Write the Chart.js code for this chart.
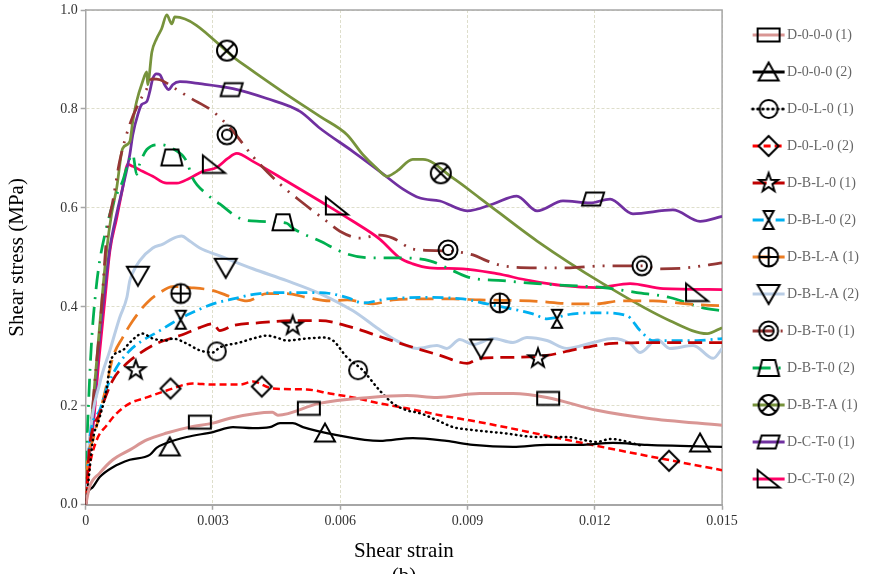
<!DOCTYPE html>
<html>
<head>
<meta charset="utf-8">
<script src="https://cdn.jsdelivr.net/npm/chart.js@4.4.1/dist/chart.umd.min.js"></script>
<style>
  html, body { margin: 0; padding: 0; background: #fff; overflow: hidden; }
  #wrap { width: 870px; height: 589px; }
</style>
</head>
<body>
<div id="wrap"><canvas id="chart" width="870" height="589"></canvas></div>
<script>
// tick positions
const xTicks = [0, 0.003, 0.006, 0.009, 0.012, 0.015];
const yTicks = [0, 0.2, 0.4, 0.6, 0.8, 1.0];

const seriesNames = ['D-0-0-0 (1)', 'D-0-0-0 (2)', 'D-0-L-0 (1)', 'D-0-L-0 (2)', 'D-B-L-0 (1)', 'D-B-L-0 (2)',
  'D-B-L-A (1)', 'D-B-L-A (2)', 'D-B-T-0 (1)', 'D-B-T-0 (2)', 'D-B-T-A (1)', 'D-C-T-0 (1)', 'D-C-T-0 (2)'];

// curves, [shear strain, shear stress (MPa)]
const d000_1 = [[0,0],[0.00009,0.036],[0.00033,0.064],[0.00064,0.091],[0.00104,0.111],[0.00144,0.131],[0.00191,0.145],[0.00245,0.157],[0.003,0.165],[0.0034,0.175],[0.0044,0.187],[0.00453,0.181],[0.0055,0.205],[0.0067,0.217],[0.00757,0.221],[0.00828,0.217],[0.00929,0.225],[0.01007,0.225],[0.01087,0.217],[0.01205,0.191],[0.01323,0.175],[0.015,0.161]];
const d000_2 = [[0,0],[0.00002,0.016],[0.00017,0.036],[0.00033,0.056],[0.00064,0.076],[0.00104,0.091],[0.00151,0.101],[0.00167,0.115],[0.00191,0.125],[0.00238,0.137],[0.003,0.147],[0.00347,0.157],[0.00394,0.155],[0.00434,0.157],[0.00458,0.165],[0.00488,0.165],[0.00512,0.157],[0.00592,0.141],[0.00693,0.129],[0.00771,0.135],[0.00851,0.129],[0.00913,0.121],[0.01007,0.117],[0.01087,0.121],[0.01165,0.121],[0.01243,0.125],[0.01323,0.121],[0.01401,0.119],[0.015,0.117]];
const d0L0_1 = [[0,0],[0.00005,0.036],[0.00017,0.131],[0.00033,0.177],[0.0005,0.237],[0.00059,0.292],[0.00087,0.312],[0.00104,0.328],[0.00134,0.346],[0.00158,0.336],[0.00191,0.332],[0.00205,0.336],[0.00238,0.326],[0.00269,0.312],[0.003,0.308],[0.00316,0.318],[0.00363,0.328],[0.00394,0.336],[0.00427,0.342],[0.0045,0.338],[0.00474,0.332],[0.00521,0.336],[0.00559,0.338],[0.00583,0.332],[0.00616,0.298],[0.00653,0.272],[0.00693,0.231],[0.00724,0.205],[0.00757,0.191],[0.00788,0.185],[0.00828,0.171],[0.00866,0.157],[0.00913,0.151],[0.00983,0.145],[0.01064,0.137],[0.01134,0.137],[0.01205,0.127],[0.01236,0.133],[0.01314,0.119]];
const d0L0_2 = [[0,0],[0.00002,0.024],[0.00009,0.076],[0.00026,0.131],[0.0005,0.161],[0.00073,0.185],[0.00104,0.205],[0.00144,0.217],[0.00191,0.231],[0.00252,0.245],[0.003,0.243],[0.00363,0.243],[0.00394,0.249],[0.00441,0.235],[0.00521,0.233],[0.00575,0.225],[0.0063,0.217],[0.00693,0.205],[0.00757,0.195],[0.00835,0.181],[0.00929,0.167],[0.01101,0.137],[0.01205,0.119],[0.01347,0.095],[0.015,0.070]];
const dBL0_1 = [[0,0],[0.00005,0.070],[0.00009,0.117],[0.00033,0.185],[0.00064,0.252],[0.00097,0.286],[0.00127,0.306],[0.00167,0.326],[0.00222,0.342],[0.00269,0.358],[0.003,0.366],[0.00316,0.352],[0.00347,0.362],[0.0041,0.368],[0.00488,0.372],[0.00552,0.372],[0.0063,0.358],[0.00693,0.340],[0.00757,0.322],[0.00835,0.302],[0.00899,0.286],[0.00929,0.296],[0.01007,0.298],[0.01087,0.302],[0.01165,0.316],[0.01243,0.326],[0.01361,0.328],[0.015,0.328]];
const dBL0_2 = [[0,0],[0.00005,0.070],[0.00009,0.131],[0.00033,0.191],[0.0005,0.237],[0.00073,0.278],[0.00104,0.312],[0.00134,0.332],[0.00167,0.348],[0.00205,0.368],[0.00245,0.386],[0.003,0.406],[0.00347,0.416],[0.0041,0.427],[0.00488,0.429],[0.00552,0.429],[0.00616,0.419],[0.00653,0.408],[0.0071,0.416],[0.00795,0.419],[0.00889,0.416],[0.00946,0.406],[0.00993,0.398],[0.01054,0.386],[0.01087,0.376],[0.01149,0.386],[0.01212,0.388],[0.01276,0.382],[0.01307,0.352],[0.01337,0.332],[0.01441,0.332],[0.015,0.336]];
const dBLA_1 = [[0,0],[0.00002,0.064],[0.00017,0.131],[0.00033,0.185],[0.0005,0.245],[0.00064,0.298],[0.00087,0.338],[0.00111,0.372],[0.00144,0.408],[0.00175,0.429],[0.00205,0.441],[0.00245,0.439],[0.003,0.433],[0.00347,0.419],[0.0038,0.412],[0.00427,0.427],[0.00474,0.427],[0.00521,0.419],[0.00575,0.412],[0.00616,0.414],[0.00677,0.406],[0.00724,0.414],[0.00788,0.416],[0.00866,0.416],[0.00929,0.414],[0.01047,0.412],[0.01158,0.406],[0.01205,0.406],[0.01259,0.412],[0.01337,0.412],[0.01417,0.406],[0.015,0.402]];
const dBLA_2 = [[0,0],[0.00005,0.070],[0.00009,0.131],[0.00033,0.245],[0.00057,0.312],[0.0008,0.378],[0.00097,0.419],[0.00104,0.453],[0.00111,0.469],[0.00127,0.493],[0.00158,0.519],[0.00182,0.527],[0.00203,0.537],[0.00226,0.543],[0.00245,0.533],[0.00269,0.519],[0.00316,0.503],[0.00394,0.477],[0.00474,0.453],[0.00552,0.427],[0.0063,0.392],[0.00686,0.358],[0.00724,0.336],[0.00781,0.316],[0.00828,0.322],[0.00851,0.316],[0.00882,0.334],[0.00913,0.324],[0.0096,0.336],[0.01007,0.328],[0.0104,0.338],[0.01087,0.332],[0.01134,0.316],[0.01196,0.328],[0.01243,0.336],[0.01283,0.326],[0.01307,0.308],[0.01347,0.334],[0.01377,0.316],[0.01432,0.322],[0.01479,0.296],[0.015,0.316]];
const dBT0_1 = [[0,0],[0.00005,0.070],[0.00014,0.171],[0.00026,0.292],[0.00035,0.372],[0.0005,0.547],[0.00064,0.614],[0.0008,0.694],[0.00104,0.769],[0.00127,0.815],[0.00144,0.841],[0.00156,0.861],[0.00175,0.859],[0.00215,0.839],[0.00245,0.823],[0.003,0.795],[0.00347,0.755],[0.00394,0.704],[0.00458,0.648],[0.00512,0.610],[0.00568,0.573],[0.00599,0.553],[0.00646,0.539],[0.00693,0.545],[0.00724,0.539],[0.00771,0.517],[0.00851,0.513],[0.00913,0.505],[0.00946,0.493],[0.00983,0.483],[0.01064,0.479],[0.01142,0.479],[0.01219,0.483],[0.01314,0.483],[0.01347,0.477],[0.01417,0.479],[0.015,0.489]];
const dBT0_2 = [[0,0],[0.00002,0.091],[0.00007,0.211],[0.00014,0.332],[0.00024,0.433],[0.00033,0.493],[0.00047,0.553],[0.00064,0.608],[0.00087,0.654],[0.00104,0.700],[0.00111,0.708],[0.0012,0.668],[0.00127,0.688],[0.00144,0.718],[0.00175,0.728],[0.00205,0.720],[0.00238,0.694],[0.00252,0.660],[0.00285,0.628],[0.00316,0.608],[0.00363,0.579],[0.0041,0.573],[0.00474,0.569],[0.00488,0.559],[0.00552,0.533],[0.00616,0.507],[0.0067,0.499],[0.00733,0.499],[0.00811,0.493],[0.00866,0.473],[0.00906,0.459],[0.00983,0.453],[0.01064,0.447],[0.01142,0.443],[0.01219,0.439],[0.01299,0.429],[0.01377,0.419],[0.01455,0.398],[0.015,0.392]];
const dBTA_1 = [[0,0],[0.00005,0.070],[0.00014,0.171],[0.00026,0.292],[0.00038,0.412],[0.0005,0.519],[0.00061,0.588],[0.00073,0.640],[0.00087,0.720],[0.00104,0.734],[0.00111,0.775],[0.0012,0.815],[0.00134,0.855],[0.00144,0.875],[0.00146,0.849],[0.00156,0.915],[0.00167,0.942],[0.00179,0.962],[0.00191,0.990],[0.00203,0.972],[0.0021,0.986],[0.00363,0.895],[0.00474,0.829],[0.00552,0.785],[0.00616,0.748],[0.00653,0.708],[0.00686,0.680],[0.0071,0.664],[0.00733,0.674],[0.00771,0.698],[0.00795,0.698],[0.00866,0.660],[0.00929,0.620],[0.01064,0.533],[0.01219,0.447],[0.01377,0.372],[0.01465,0.346],[0.015,0.358]];
const dCT0_1 = [[0,0],[0.00005,0.070],[0.00017,0.171],[0.00028,0.292],[0.00042,0.412],[0.00057,0.519],[0.00073,0.588],[0.00087,0.640],[0.00104,0.708],[0.00111,0.748],[0.00123,0.789],[0.00132,0.809],[0.00144,0.815],[0.00151,0.835],[0.00158,0.861],[0.00167,0.871],[0.00175,0.869],[0.00186,0.849],[0.00196,0.839],[0.00205,0.849],[0.00222,0.855],[0.00269,0.851],[0.00347,0.841],[0.00427,0.821],[0.00505,0.795],[0.00552,0.761],[0.0063,0.714],[0.00693,0.674],[0.00748,0.638],[0.00788,0.620],[0.00835,0.614],[0.00899,0.594],[0.0096,0.608],[0.01016,0.624],[0.01064,0.594],[0.01125,0.614],[0.01189,0.610],[0.01236,0.618],[0.0129,0.588],[0.01384,0.596],[0.01448,0.573],[0.015,0.583]];
const dCT0_2 = [[0,0],[0.00005,0.070],[0.00019,0.171],[0.00031,0.292],[0.00045,0.412],[0.00057,0.513],[0.00073,0.579],[0.00087,0.640],[0.00099,0.688],[0.00111,0.684],[0.00134,0.674],[0.00158,0.664],[0.00191,0.650],[0.00215,0.650],[0.00245,0.660],[0.00276,0.674],[0.00309,0.682],[0.00335,0.700],[0.00356,0.710],[0.00394,0.694],[0.00474,0.654],[0.00552,0.614],[0.0063,0.573],[0.00693,0.537],[0.0074,0.499],[0.00771,0.487],[0.00811,0.479],[0.00889,0.477],[0.00969,0.467],[0.01047,0.453],[0.01125,0.443],[0.01205,0.439],[0.01283,0.447],[0.01361,0.437],[0.015,0.435]];

// marker positions on each curve
const m000_1 = [[0.00269,0.167],[0.00526,0.195],[0.0109,0.215]];
const m000_2 = [[0.00198,0.117],[0.00564,0.145],[0.01448,0.125]];
const m0L0_1 = [[0.00309,0.310],[0.00642,0.272]];
const m0L0_2 = [[0.002,0.235],[0.00415,0.239],[0.01375,0.089]];
const mBL0_1 = [[0.00118,0.272],[0.00488,0.362],[0.01066,0.296]];
const mBL0_2 = [[0.00224,0.374],[0.01111,0.376]];
const mBLA_1 = [[0.00224,0.427],[0.00976,0.408]];
const mBLA_2 = [[0.00123,0.463],[0.0033,0.479],[0.00932,0.316]];
const mBT0_1 = [[0.00333,0.748],[0.00854,0.515],[0.01311,0.483]];
const mBT0_2 = [[0.00203,0.702],[0.00465,0.571]];
const mBTA_1 = [[0.00333,0.918],[0.00837,0.670]];
const mCT0_1 = [[0.00344,0.839],[0.01196,0.618]];
const mCT0_2 = [[0.00302,0.688],[0.00592,0.604],[0.01441,0.429]];

const curves = [d000_1, d000_2, d0L0_1, d0L0_2, dBL0_1, dBL0_2, dBLA_1, dBLA_2, dBT0_1, dBT0_2, dBTA_1, dCT0_1, dCT0_2];
const markers = [m000_1, m000_2, m0L0_1, m0L0_2, mBL0_1, mBL0_2, mBLA_1, mBLA_2, mBT0_1, mBT0_2, mBTA_1, mCT0_1, mCT0_2];

// styles
const colors = ['#d99694', '#000000', '#000000', '#ff0000', '#c00000', '#00b0f0', '#eb7b21', '#b9cde5', '#953735', '#00b050', '#77933c', '#7030a0', '#ff0066'];
const widths = [3, 2.25, 2.5, 2.5, 2.75, 2.75, 2.75, 3, 2.75, 2.75, 2.75, 2.75, 2.75];
const dashes = [[], [], [0.5, 4.5], [7, 4], [14, 7], [11, 5, 2, 5], [18, 8], [], [20, 8, 2, 8, 2, 8], [18, 8, 2, 8], [], [], []];
const shapes = ['rect', 'triangle', 'circle', 'diamond', 'star', 'hourglass', 'circlePlus', 'triangleDown', 'doubleCircle', 'trapezoid', 'circleCross', 'parallelogram', 'rightTriangle'];

const FONT = 'Liberation Serif';
const axisColor = '#a6a6a6';
const gridColor = '#dedecb';

function drawShape(g, shape) {
    g.strokeStyle = '#000';
    g.lineWidth = 2;
    g.setLineDash([]);
    g.beginPath();
    switch (shape) {
        case 'rect': g.rect(-11, -6.5, 22, 13); break;
        case 'triangle': g.moveTo(0, -9.5); g.lineTo(10, 8.5); g.lineTo(-10, 8.5); g.closePath(); break;
        case 'circle': g.arc(0, 0, 9, 0, Math.PI * 2); break;
        case 'diamond': g.moveTo(0, -10); g.lineTo(10, 0); g.lineTo(0, 10); g.lineTo(-10, 0); g.closePath(); break;
        case 'star':
            for (let k = 0; k < 10; k++) {
                const r = k % 2 ? 4 : 10;
                const a = -Math.PI / 2 + k * Math.PI / 5;
                if (k === 0) g.moveTo(r * Math.cos(a), r * Math.sin(a));
                else g.lineTo(r * Math.cos(a), r * Math.sin(a));
            }
            g.closePath();
            break;
        case 'hourglass': g.moveTo(-5, -9); g.lineTo(5, -9); g.lineTo(-5, 9); g.lineTo(5, 9); g.closePath(); break;
        case 'circlePlus':
            g.arc(0, 0, 9.5, 0, Math.PI * 2);
            g.moveTo(-9.5, 0); g.lineTo(9.5, 0); g.moveTo(0, -9.5); g.lineTo(0, 9.5);
            break;
        case 'triangleDown': g.moveTo(-11, -9); g.lineTo(11, -9); g.lineTo(0, 10); g.closePath(); break;
        case 'doubleCircle':
            g.arc(0, 0, 9.5, 0, Math.PI * 2);
            g.moveTo(5, 0); g.arc(0, 0, 5, 0, Math.PI * 2);
            break;
        case 'trapezoid': g.moveTo(-6.5, -8); g.lineTo(6.5, -8); g.lineTo(10.5, 8); g.lineTo(-10.5, 8); g.closePath(); break;
        case 'circleCross': {
            const d = 10 * Math.SQRT1_2;
            g.arc(0, 0, 10, 0, Math.PI * 2);
            g.moveTo(-d, -d); g.lineTo(d, d); g.moveTo(d, -d); g.lineTo(-d, d);
            break;
        }
        case 'parallelogram': g.moveTo(-7, -6.5); g.lineTo(11, -6.5); g.lineTo(7, 6.5); g.lineTo(-11, 6.5); g.closePath(); break;
        case 'rightTriangle': g.moveTo(-11, -9); g.lineTo(-11, 8.5); g.lineTo(11, 8.5); g.closePath(); break;
    }
    g.stroke();
}

function makeMarker(shape) {
    const c = document.createElement('canvas');
    c.width = 28; c.height = 28;
    const g = c.getContext('2d');
    g.translate(14, 14);
    drawShape(g, shape);
    return c;
}

function makeLegendIcon(i) {
    const c = document.createElement('canvas');
    c.width = 50; c.height = 28;
    const g = c.getContext('2d');
    g.strokeStyle = colors[i];
    g.lineWidth = 3;
    g.setLineDash(dashes[i]);
    g.lineCap = i === 2 ? 'round' : 'butt';
    g.beginPath();
    g.moveTo(15, 14);
    g.lineTo(47, 14);
    g.stroke();
    g.translate(31, 14);
    drawShape(g, shapes[i]);
    return c;
}

const markerIcons = shapes.map(makeMarker);
const legendIcons = seriesNames.map((n, i) => makeLegendIcon(i));

const toXY = pts => pts.map(p => ({ x: p[0], y: p[1] }));

const lineSets = curves.map((pts, i) => ({
    label: seriesNames[i],
    data: toXY(pts),
    showLine: true,
    borderColor: colors[i],
    backgroundColor: colors[i],
    borderWidth: widths[i],
    borderDash: dashes[i],
    borderCapStyle: i === 2 ? 'round' : 'butt',
    cubicInterpolationMode: 'monotone',
    pointRadius: 0,
    fill: false,
    order: 1
}));

const markerSets = markers.map((pts, i) => ({
    label: seriesNames[i] + ' marker',
    data: toXY(pts),
    showLine: false,
    pointStyle: markerIcons[i],
    pointRadius: 9,
    order: 0
}));

const framePlugin = {
    id: 'frame',
    beforeDatasetsDraw(chart) {
        const { ctx, chartArea: a } = chart;
        ctx.save();
        ctx.strokeStyle = axisColor;
        ctx.lineWidth = 1.5;
        ctx.beginPath();
        ctx.moveTo(a.left, a.top);
        ctx.lineTo(a.right, a.top);
        ctx.lineTo(a.right, a.bottom);
        ctx.stroke();
        ctx.restore();
    }
};

const tickFont = { family: FONT, size: 14 };
const titleFont = { family: FONT, size: 21 };

new Chart(document.getElementById('chart'), {
    type: 'scatter',
    data: { datasets: lineSets.concat(markerSets) },
    plugins: [framePlugin],
    options: {
        responsive: false,
        animation: false,
        layout: { padding: { left: 5, top: 1, right: 1, bottom: 0 } },
        scales: {
            x: {
                type: 'linear',
                min: 0,
                max: 0.015,
                afterBuildTicks: axis => { axis.ticks = xTicks.map(v => ({ value: v })); },
                ticks: {
                    autoSkip: false,
                    maxRotation: 0,
                    padding: 3,
                    font: tickFont,
                    color: '#333',
                    callback: v => v === 0 ? '0' : v.toFixed(3)
                },
                grid: { color: gridColor, lineWidth: 1, tickColor: axisColor, tickLength: 5, tickWidth: 1.5 },
                border: { color: axisColor, width: 2, dash: [3, 2] },
                title: { display: true, text: 'Shear strain', font: titleFont, color: '#000', padding: { top: 6, bottom: 0 } }
            },
            y: {
                type: 'linear',
                min: 0,
                max: 1,
                afterBuildTicks: axis => { axis.ticks = yTicks.map(v => ({ value: v })); },
                // let the plot start closer to the top edge
                afterFit: axis => { axis.paddingTop = 7; },
                ticks: {
                    autoSkip: false,
                    padding: 3,
                    font: tickFont,
                    color: '#333',
                    callback: v => v.toFixed(1)
                },
                grid: { color: gridColor, lineWidth: 1, tickColor: axisColor, tickLength: 5, tickWidth: 1.5 },
                border: { color: axisColor, width: 1.5, dash: [3, 2] },
                title: { display: true, text: 'Shear stress (MPa)', font: titleFont, color: '#000', padding: { top: 0, bottom: 27 } }
            }
        },
        plugins: {
            tooltip: { enabled: false },
            title: {
                display: true,
                text: '(b)',
                position: 'bottom',
                fullSize: false,
                font: { family: FONT, size: 21, weight: 'normal' },
                color: '#000',
                padding: 0
            },
            legend: {
                position: 'right',
                align: 'start',
                title: { display: true, text: '', font: { size: 1, lineHeight: 0 }, padding: { top: 4, bottom: 0 } },
                labels: {
                    usePointStyle: true,
                    pointStyleWidth: 35,
                    padding: 23,
                    color: '#000',
                    font: { family: FONT, size: 14 },
                    generateLabels: chart => seriesNames.map((name, i) => ({
                        text: name,
                        pointStyle: legendIcons[i],
                        datasetIndex: i,
                        hidden: !chart.isDatasetVisible(i),
                        fillStyle: 'transparent',
                        strokeStyle: 'transparent',
                        lineWidth: 0
                    }))
                }
            }
        }
    }
});
</script>
</body>
</html>
